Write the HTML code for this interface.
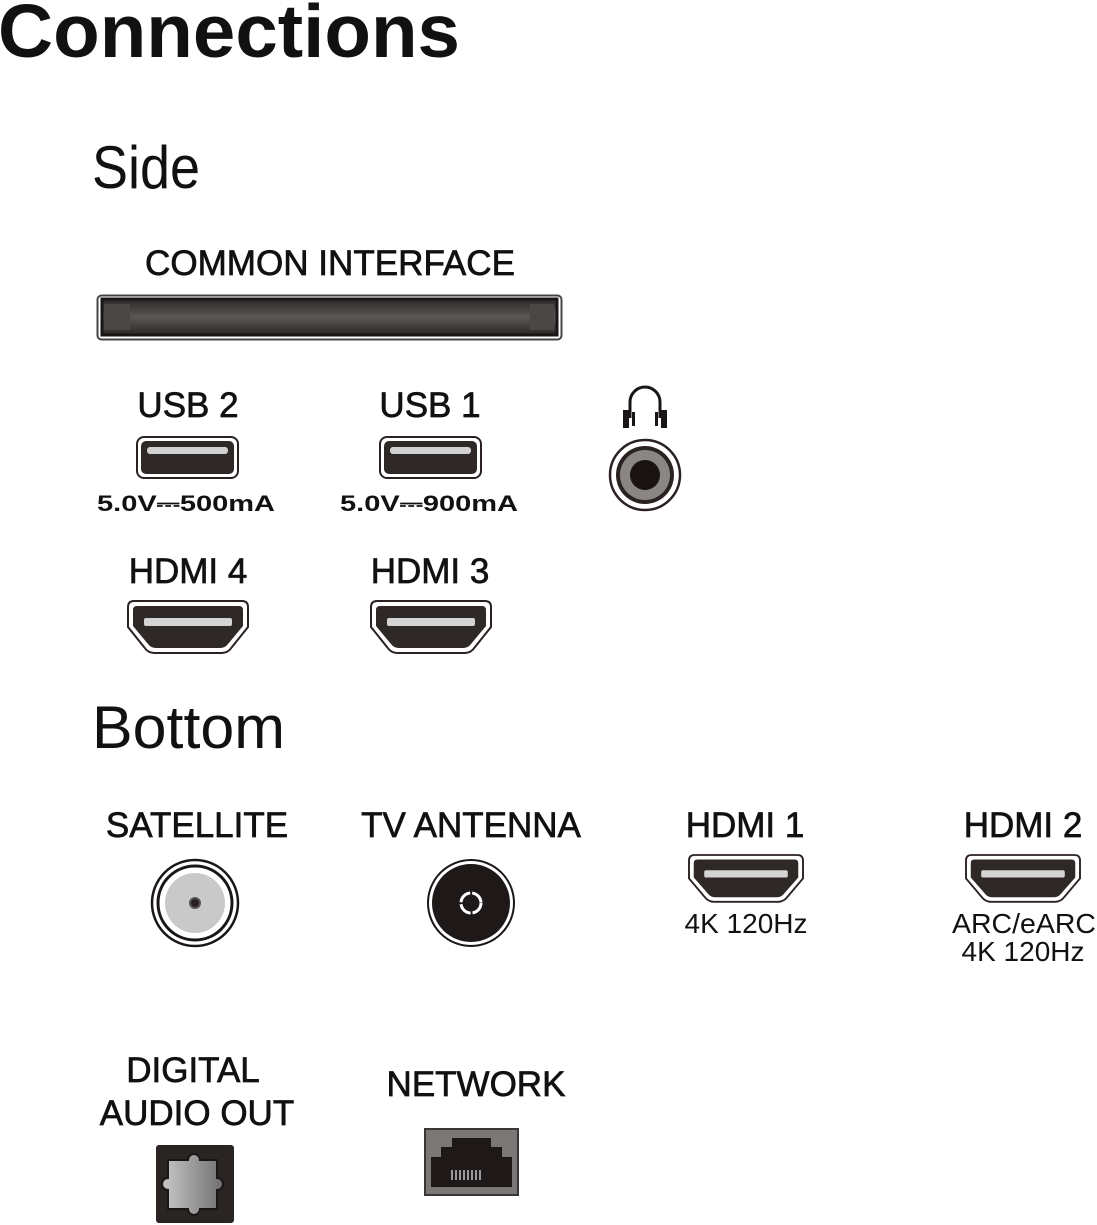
<!DOCTYPE html>
<html><head><meta charset="utf-8"><style>
html,body{margin:0;padding:0;background:#fff;}
svg{display:block;}
text{font-family:"Liberation Sans",sans-serif;fill:#111;}
.lbl{font-size:35px;stroke:#111;stroke-width:0.7px;text-anchor:middle;}
.sm{font-size:28px;text-anchor:middle;}
.pw{font-size:22px;font-weight:bold;}
</style></head><body>
<svg width="1097" height="1225" viewBox="0 0 1097 1225" xmlns="http://www.w3.org/2000/svg">
<defs>
<linearGradient id="ci" x1="0" y1="0" x2="0" y2="1">
<stop offset="0" stop-color="#2a2625"/><stop offset="0.5" stop-color="#5a5756"/><stop offset="1" stop-color="#2a2625"/>
</linearGradient>
<linearGradient id="opt" x1="0" y1="0" x2="1" y2="0">
<stop offset="0" stop-color="#c8c8c8"/><stop offset="1" stop-color="#707070"/>
</linearGradient>
<g id="hdmi">
<path d="M6,0 H114 Q120,0 120,6 V26 L104,46 Q100,52 94,52 H26 Q20,52 16,46 L0,26 V6 Q0,0 6,0 Z" fill="#fff" stroke="#2a2220" stroke-width="2"/>
<path d="M9,5 H111 Q115,5 115,9 V25 L100,43 Q97,47 92,47 H28 Q23,47 20,43 L5,25 V9 Q5,5 9,5 Z" fill="#2e2826"/>
<rect x="16" y="17" width="88" height="8" rx="2" fill="#d4d4d4"/>
</g>
<g id="usb">
<rect x="0" y="0" width="101" height="41" rx="7" fill="#fff" stroke="#2a2220" stroke-width="2"/>
<rect x="4" y="4" width="93" height="33" rx="5" fill="#2e2826"/>
<rect x="10" y="10" width="81" height="7" rx="3" fill="#d0d0d0"/>
</g>
</defs>

<text x="-2" y="57" font-size="75" font-weight="bold" textLength="462" lengthAdjust="spacingAndGlyphs">Connections</text>
<text x="92" y="188" font-size="60" textLength="108" lengthAdjust="spacingAndGlyphs">Side</text>
<text x="330" y="275" class="lbl" textLength="370" lengthAdjust="spacingAndGlyphs">COMMON INTERFACE</text>

<rect x="97.5" y="295.5" width="464" height="44" rx="4" fill="#fff" stroke="#444" stroke-width="2"/>
<rect x="102" y="299" width="455" height="36" fill="url(#ci)"/>
<rect x="102" y="299" width="455" height="36" fill="none" stroke="#1a1615" stroke-width="3"/>
<rect x="104" y="304" width="26" height="26" fill="#4a4746"/>
<rect x="530" y="304" width="24" height="26" fill="#4a4746"/>

<text x="188" y="417" class="lbl">USB 2</text>
<text x="430" y="417" class="lbl">USB 1</text>
<use href="#usb" x="137" y="437"/>
<use href="#usb" x="380" y="437"/>
<text x="97" y="511" class="pw" textLength="178" lengthAdjust="spacingAndGlyphs">5.0V⎓500mA</text>
<text x="340" y="511" class="pw" textLength="178" lengthAdjust="spacingAndGlyphs">5.0V⎓900mA</text>

<path d="M630,418 V402 A15,15 0 0 1 660,402 V418" fill="none" stroke="#1a1615" stroke-width="3"/>
<rect x="623" y="410" width="6" height="18" fill="#1a1615"/>
<rect x="661" y="410" width="6" height="18" fill="#1a1615"/>
<rect x="632" y="412" width="3" height="14" fill="#1a1615"/>
<rect x="655" y="412" width="3" height="14" fill="#1a1615"/>
<circle cx="645" cy="475" r="35" fill="#fff" stroke="#2a2220" stroke-width="2.5"/>
<circle cx="645" cy="475" r="29" fill="#2a2220"/>
<circle cx="645" cy="475" r="25" fill="#8a8686"/>
<circle cx="645" cy="475" r="15" fill="#1a1312"/>

<text x="188" y="583" class="lbl">HDMI 4</text>
<text x="430" y="583" class="lbl">HDMI 3</text>
<use href="#hdmi" x="128" y="601"/>
<use href="#hdmi" x="371" y="601"/>

<text x="92" y="748" font-size="60" textLength="193" lengthAdjust="spacingAndGlyphs">Bottom</text>

<text x="197" y="837" class="lbl">SATELLITE</text>
<text x="471" y="837" class="lbl">TV ANTENNA</text>
<text x="745" y="837" class="lbl">HDMI 1</text>
<text x="1023" y="837" class="lbl">HDMI 2</text>

<circle cx="195" cy="903" r="43" fill="#fff" stroke="#1a1615" stroke-width="2.5"/>
<circle cx="195" cy="903" r="37" fill="#fff" stroke="#1a1615" stroke-width="3"/>
<circle cx="195" cy="903" r="30" fill="#c9c9c9"/>
<circle cx="195" cy="903" r="5" fill="#2a2220" stroke="#555" stroke-width="2"/>

<circle cx="471" cy="903" r="43" fill="#fff" stroke="#1a1615" stroke-width="2"/>
<circle cx="471" cy="903" r="39" fill="#1e1918"/>
<circle cx="471" cy="903" r="10" fill="none" stroke="#fff" stroke-width="3" stroke-dasharray="14 2"/>

<use href="#hdmi" transform="translate(689,855) scale(0.95,0.9)"/>
<use href="#hdmi" transform="translate(966,855) scale(0.95,0.9)"/>
<text x="746" y="933" class="sm">4K 120Hz</text>
<text x="1024" y="933" class="sm" textLength="144" lengthAdjust="spacingAndGlyphs">ARC/eARC</text>
<text x="1023" y="961" class="sm">4K 120Hz</text>

<text x="193" y="1082" class="lbl">DIGITAL</text>
<text x="197" y="1125" class="lbl">AUDIO OUT</text>
<text x="476" y="1096" class="lbl">NETWORK</text>

<rect x="156" y="1145" width="78" height="78" rx="3" fill="#2a2422"/>
<path d="M168,1160 H188 A6,6 0 0 1 200,1160 H217 V1178 A6,6 0 0 1 217,1190 V1209 H200 A6,6 0 0 1 188,1209 H168 V1190 A6,6 0 0 1 168,1178 Z" fill="url(#opt)" stroke="#1a1615" stroke-width="2"/>

<rect x="425" y="1129" width="93" height="66" fill="#7a7776" stroke="#3a3635" stroke-width="2"/>
<path d="M431,1187 V1157 H441 V1147 H452 V1138 H491 V1147 H502 V1157 H512 V1187 Z" fill="#1e1918"/>
<g stroke="#ddd" stroke-width="1.3">
<line x1="452" y1="1170" x2="452" y2="1180"/><line x1="456" y1="1170" x2="456" y2="1180"/><line x1="460" y1="1170" x2="460" y2="1180"/><line x1="464" y1="1170" x2="464" y2="1180"/><line x1="468" y1="1170" x2="468" y2="1180"/><line x1="472" y1="1170" x2="472" y2="1180"/><line x1="476" y1="1170" x2="476" y2="1180"/><line x1="480" y1="1170" x2="480" y2="1180"/>
</g>
</svg>
</body></html>
